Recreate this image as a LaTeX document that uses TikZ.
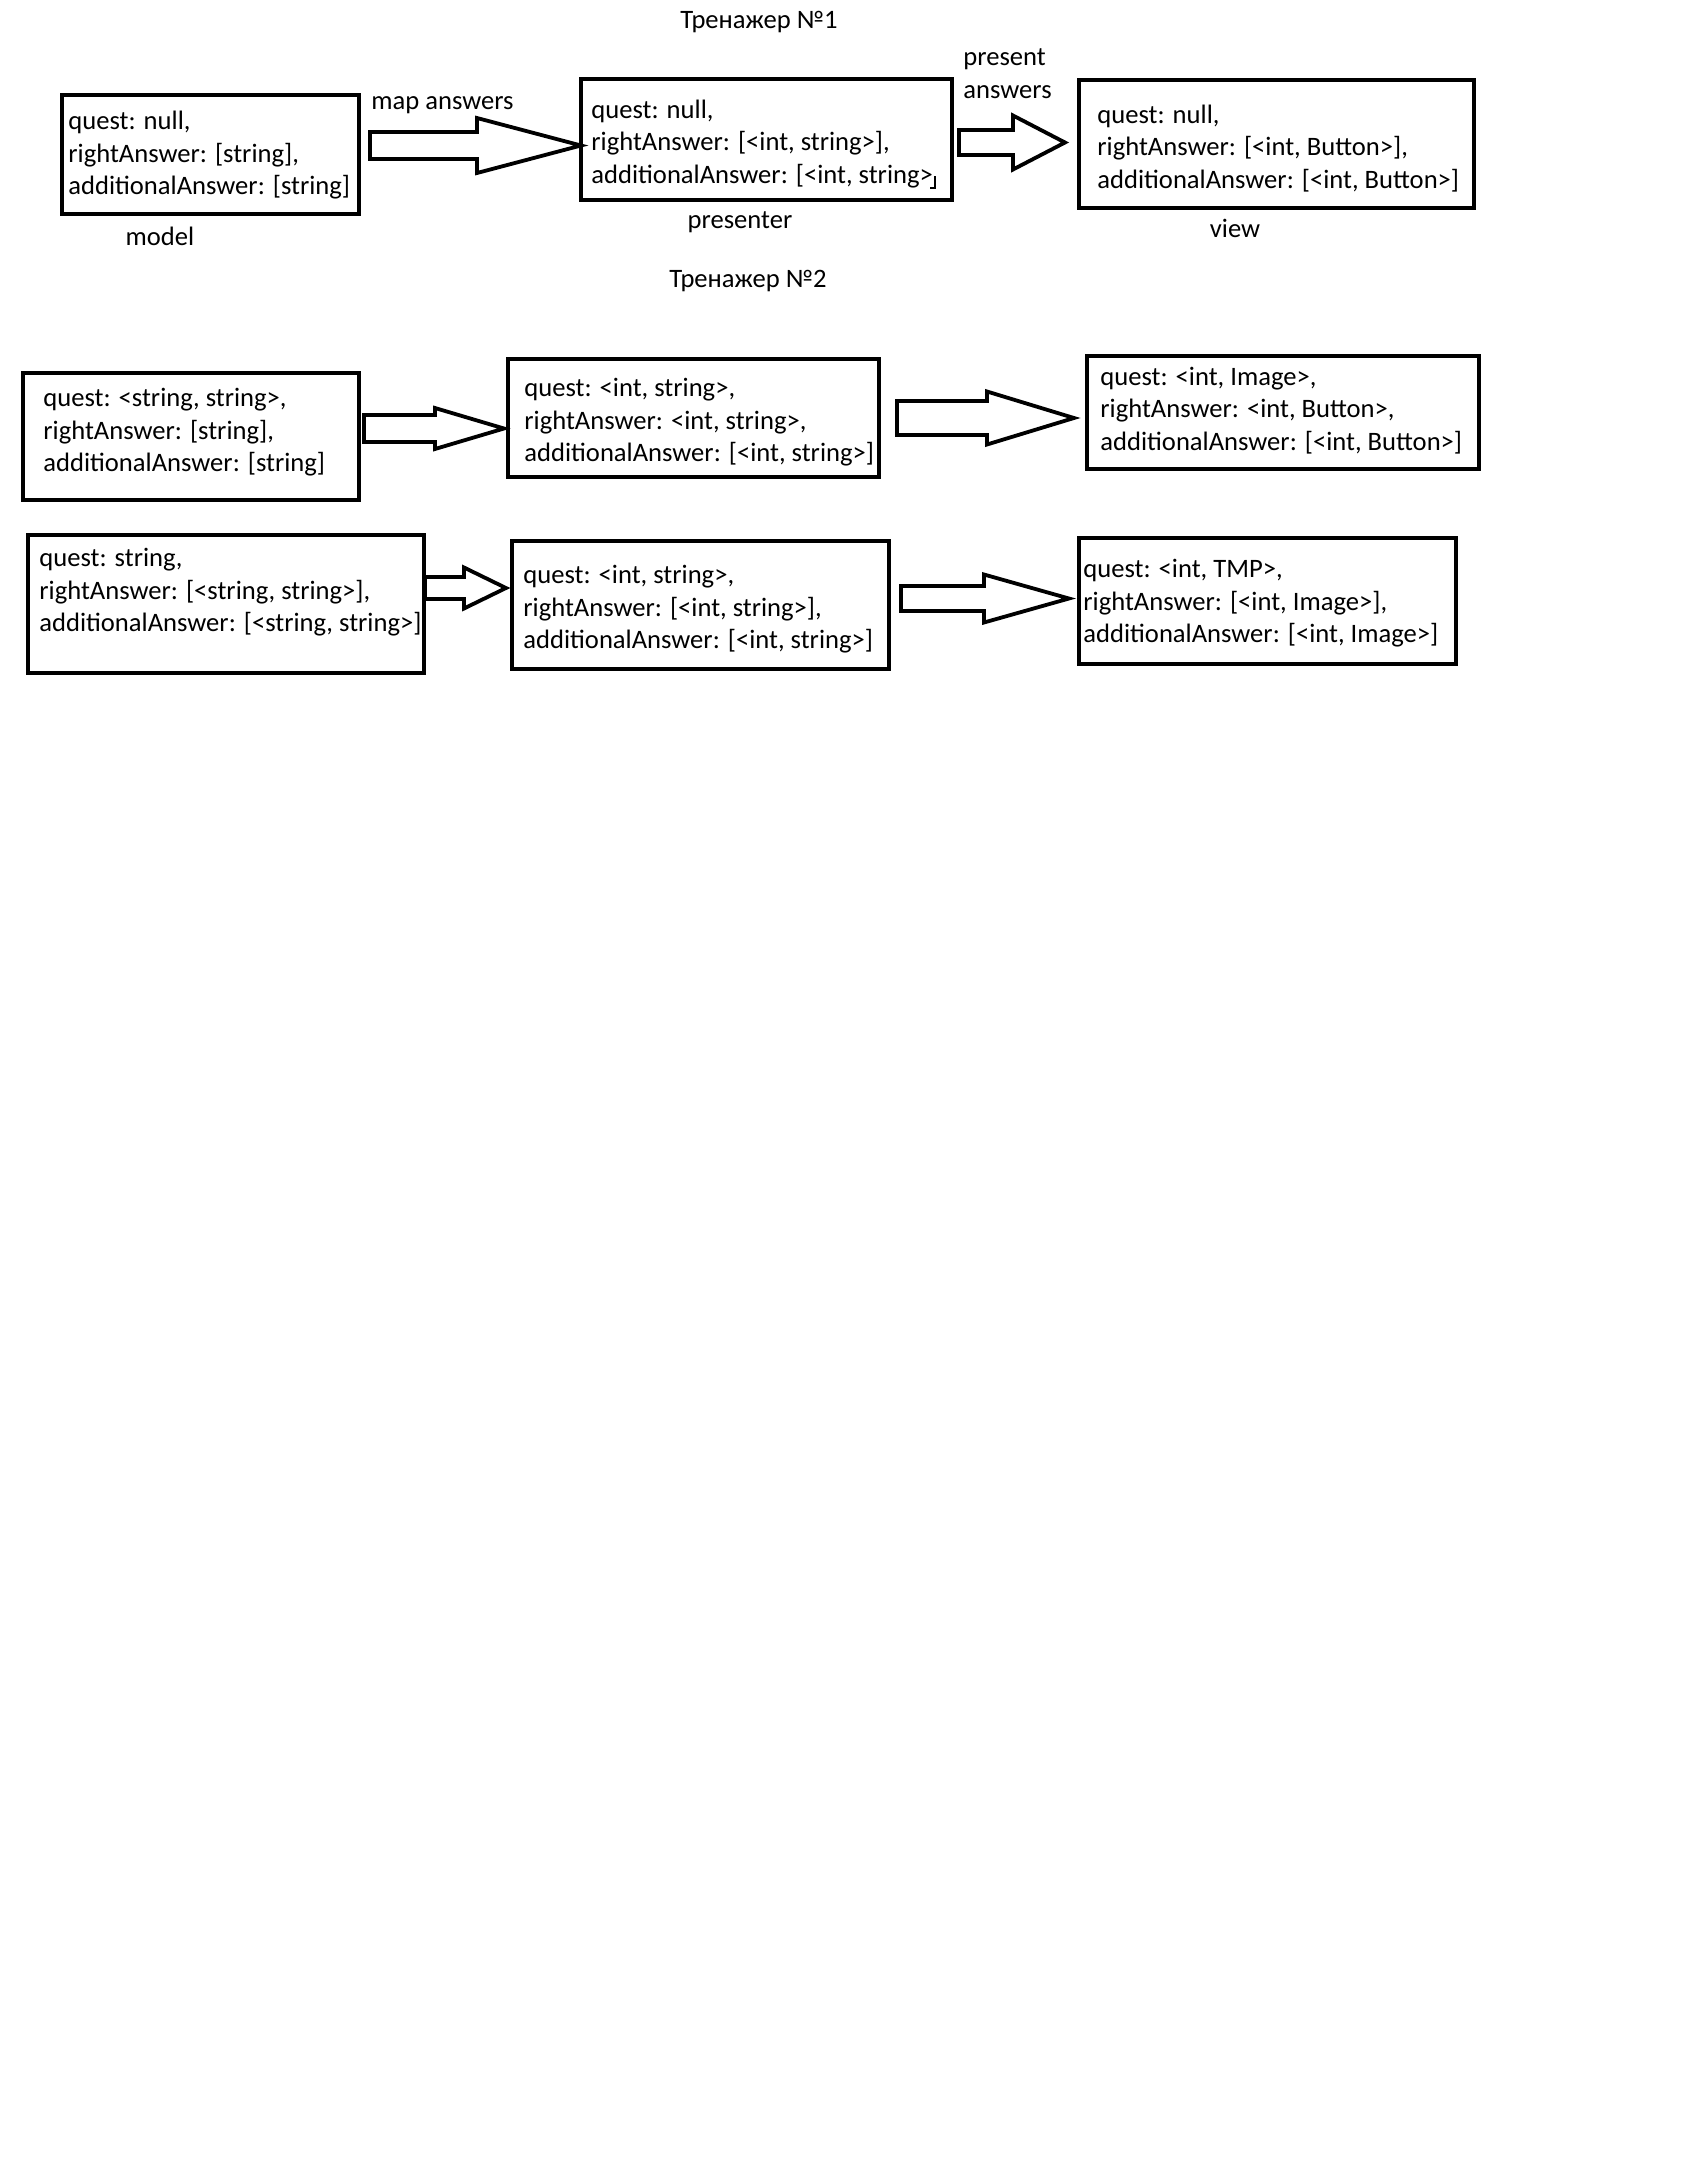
\documentclass[tikz,border=0pt]{standalone}
\usepackage{fontspec}
\setmainfont{Carlito}
\usetikzlibrary{calc}
% a clipped closing bracket: only its lower half is printed
\newcommand\halfbracket{\kern0.06em\rlap{\kern-0.16em\vrule width 0.22em height -0.14em depth 0.2em}\vrule width 0.06em height 0.3em depth 0.2em}
\begin{document}
\begin{tikzpicture}[x=0.5pt,y=-0.5pt,
  box/.style={draw=black,line width=2.25pt,rectangle,inner sep=0pt},
  txt/.style={align=left,inner sep=0pt,anchor=west,yshift=-1.7pt,font=\fontsize{13.3}{16.3}\selectfont},
  lbl/.style={inner sep=0pt,font=\fontsize{13.3}{16.5}\selectfont},
  blk/.style={draw=black,line width=1.9pt,fill=white,line join=miter}]
\useasboundingbox[fill=white] (0,0) rectangle (1700,2164);
% block arrow: tail x, tip x, head base x, centre y, shaft half width, head half width
\newcommand\blockarrow[6]{%
  \draw[blk] (#1,#4-#5) -- (#3,#4-#5) -- (#3,#4-#6) -- (#2,#4) -- (#3,#4+#6)
    -- (#3,#4+#5) -- (#1,#4+#5) -- cycle;}

% ---- trainer 1
\node[lbl] (t1) at (759,22) {Тренажер №1};
\node[box,minimum width=148.5pt,minimum height=59.5pt] (m1) at (210.5,154.5) {};
\node[txt] (m1t) at (68,152) {quest: null,\\rightAnswer: [string],\\additionalAnswer: [string]};
\node[lbl] (m1l) at (160,236) {model};

\node[box,minimum width=185.5pt,minimum height=60.5pt] (p1) at (766.5,139.5) {};
\node[txt] (p1t) at (591,141) {quest: null,\\rightAnswer: [<int, string>],\\additionalAnswer: [<int, string>\halfbracket};
\node[lbl] (p1l) at (740,222) {presenter};

\node[box,minimum width=197.5pt,minimum height=64pt] (v1) at (1276.5,144) {};
\node[txt] (v1t) at (1097,145) {quest: null,\\rightAnswer: [<int, Button>],\\additionalAnswer: [<int, Button>]};
\node[lbl] (v1l) at (1235,228) {view};

\node[lbl,anchor=west] (a1l) at (371,105) {map answers};
\blockarrow{370}{581}{477}{145.5}{13.5}{27.5}
\node[lbl,anchor=west,align=left] (a2l) at (963,73.5) {present\\answers};
\blockarrow{959}{1065}{1013}{142.5}{12.5}{27}

% ---- trainer 2
\node[lbl] (t2) at (748,281) {Тренажер №2};

\node[box,minimum width=168pt,minimum height=63.5pt] (m2) at (191,436.5) {};
\node[txt] (m2t) at (43,429) {quest: <string, string>,\\rightAnswer: [string],\\additionalAnswer: [string]};
\node[box,minimum width=185.5pt,minimum height=59pt] (p2) at (693.5,418) {};
\node[txt] (p2t) at (524,419) {quest: <int, string>,\\rightAnswer: <int, string>,\\additionalAnswer: [<int, string>]};
\node[box,minimum width=196pt,minimum height=56.5pt] (v2) at (1283,412.5) {};
\node[txt] (v2t) at (1100,407) {quest: <int, Image>,\\rightAnswer: <int, Button>,\\additionalAnswer: [<int, Button>]};
\blockarrow{364}{504}{435}{428.5}{13.5}{20.5}
\blockarrow{897}{1074}{987}{418}{17}{26.5}

\node[box,minimum width=198pt,minimum height=69pt] (m3) at (226,604) {};
\node[txt] (m3t) at (39,589) {quest: string,\\rightAnswer: [<string, string>],\\additionalAnswer: [<string, string>]};
\node[box,minimum width=188.5pt,minimum height=64pt] (p3) at (700.5,605) {};
\node[txt] (p3t) at (523,606) {quest: <int, string>,\\rightAnswer: [<int, string>],\\additionalAnswer: [<int, string>]};
\node[box,minimum width=188.5pt,minimum height=63pt] (v3) at (1267.5,601) {};
\node[txt] (v3t) at (1083,600) {quest: <int, TMP>,\\rightAnswer: [<int, Image>],\\additionalAnswer: [<int, Image>]};
\blockarrow{425}{506}{464}{588}{11}{20.5}
\blockarrow{901}{1069}{984}{598.5}{12.5}{24}
\end{tikzpicture}
\end{document}
